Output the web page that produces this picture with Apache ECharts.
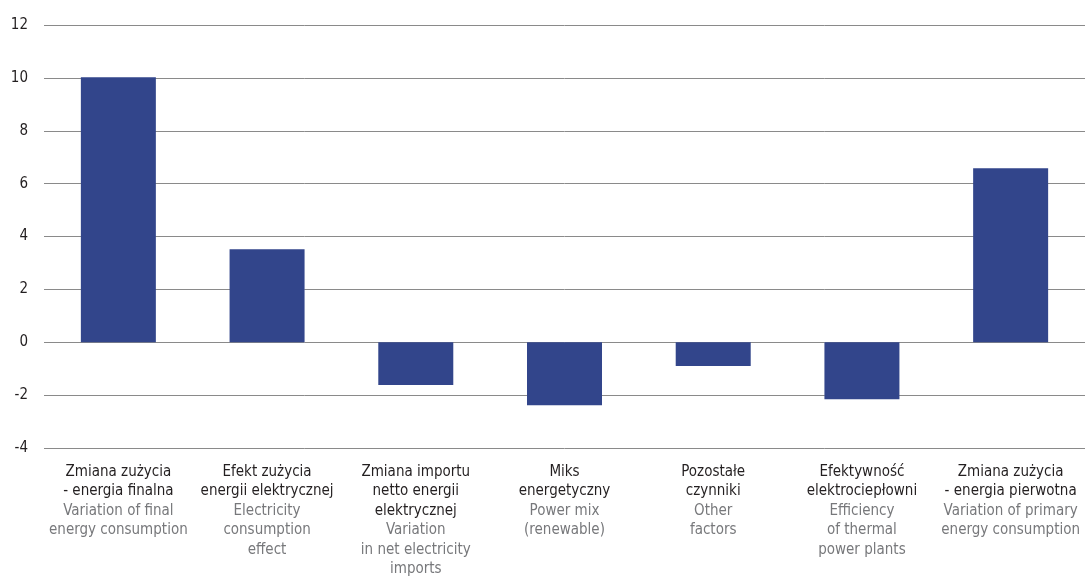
<!DOCTYPE html>
<html>
<head>
<meta charset="utf-8">
<script src="https://cdn.jsdelivr.net/npm/echarts@6/dist/echarts.min.js"></script>
<style>
  html, body { margin: 0; padding: 0; background: #fff; }
  #chart { width: 1085px; height: 585px; }
</style>
</head>
<body>
<div id="chart"></div>
<script>
// polish (dark) and english (grey) label lines for each bar
const labelsPl = [
  ['Zmiana zużycia', '- energia finalna'],
  ['Efekt zużycia', 'energii elektrycznej'],
  ['Zmiana importu', 'netto energii', 'elektrycznej'],
  ['Miks', 'energetyczny'],
  ['Pozostałe', 'czynniki'],
  ['Efektywność', 'elektrociepłowni'],
  ['Zmiana zużycia', '- energia pierwotna']
]
const labelsEn = [
  ['Variation of final', 'energy consumption'],
  ['Electricity', 'consumption', 'effect'],
  ['Variation', 'in net electricity', 'imports'],
  ['Power mix', '(renewable)'],
  ['Other', 'factors'],
  ['Efficiency', 'of thermal', 'power plants'],
  ['Variation of primary', 'energy consumption']
]
const values = [10.02, 3.52, -1.62, -2.38, -0.9, -2.16, 6.58]
const yTicks = { min: -4, max: 12, interval: 2 }

const categories = labelsPl.map((pl, i) =>
  pl.map(s => '{pl|' + s + '}').concat(labelsEn[i].map(s => '{en|' + s + '}')).join('\n')
)

const font = "'DejaVu Sans Condensed', Roboto, sans-serif"

const chart = echarts.init(document.getElementById('chart'))
chart.setOption({
  animation: false,
  grid: { left: 44, right: -4, top: 25, bottom: 137 },
  xAxis: {
    type: 'category',
    data: categories,
    axisLine: { show: false, onZero: false },
    axisTick: { show: false },
    axisLabel: {
      interval: 0,
      margin: 14,
      rich: {
        pl: { fontFamily: font, fontSize: 15, color: '#231f20', lineHeight: 19.5 },
        en: { fontFamily: font, fontSize: 15, color: '#77787b', lineHeight: 19.5 }
      }
    }
  },
  yAxis: {
    type: 'value',
    min: yTicks.min,
    max: yTicks.max,
    interval: yTicks.interval,
    axisLine: { show: false },
    axisTick: { show: false },
    axisLabel: { fontFamily: font, fontSize: 15, color: '#231f20', margin: 16 },
    splitLine: { lineStyle: { color: '#8a8a8a', width: 1 } }
  },
  series: [{
    type: 'bar',
    data: values,
    barWidth: 75,
    itemStyle: { color: '#32458b' }
  }]
})
</script>
</body>
</html>
